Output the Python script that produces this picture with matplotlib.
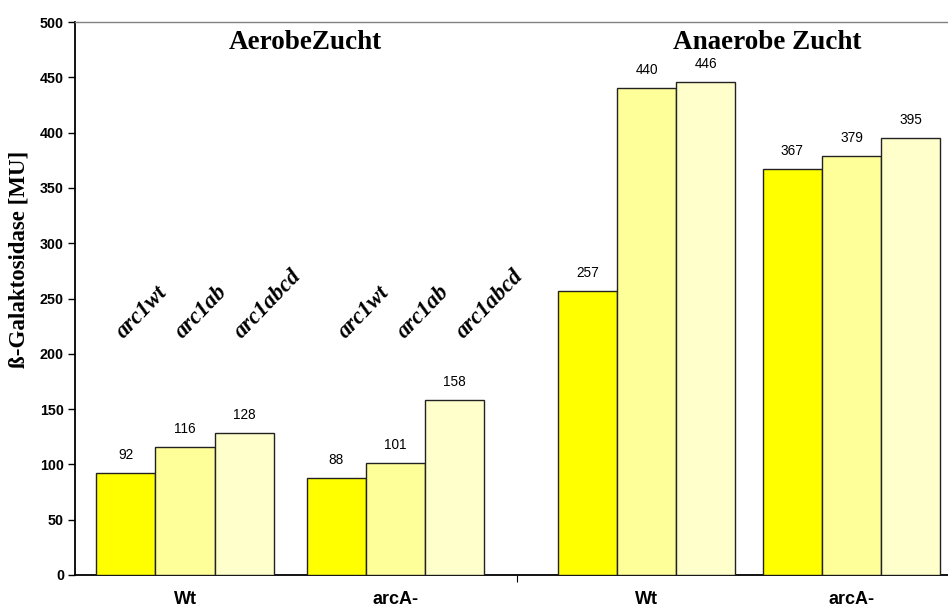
import matplotlib
matplotlib.use("Agg")
import matplotlib.pyplot as plt

# Data
groups = ["Wt", "arcA-", "Wt", "arcA-"]
strains = ["arc1wt", "arc1ab", "arc1abcd"]
aerobe_wt = [92, 116, 128]
aerobe_arca = [88, 101, 158]
anaerobe_wt = [257, 440, 446]
anaerobe_arca = [367, 379, 395]
conditions = ["AerobeZucht", "Anaerobe Zucht"]
y_label = "ß-Galaktosidase [MU]"
y_ticks = [0, 50, 100, 150, 200, 250, 300, 350, 400, 450, 500]

series = [aerobe_wt, aerobe_arca, anaerobe_wt, anaerobe_arca]
colors = ["#FFFF00", "#FFFF99", "#FFFFCC"]

SANS = "Liberation Sans"
SERIF = "Liberation Serif"

W, H = 948, 607
fig = plt.figure(figsize=(W / 100, H / 100), dpi=100)
ax_left, ax_right, ax_top, ax_bottom = 75, 948, 22, 575
ax = fig.add_axes([ax_left / W, 1 - ax_bottom / H,
                   (ax_right - ax_left) / W, (ax_bottom - ax_top) / H])

# Horizontal layout in pixel-like units along the axis
span = ax_right - ax_left
group_centers = [110, 320.5, 571.5, 776.5]
label_shift = [2, 13]
bar_w = 59.2
ax.set_xlim(0, span)
ax.set_ylim(0, 500)

for gc, vals in zip(group_centers, series):
    for i, v in enumerate(vals):
        xc = gc + (i - 1) * bar_w
        ax.bar(xc, v, width=bar_w, color=colors[i], edgecolor="#222222",
               linewidth=1.0, zorder=3)
        ax.annotate(str(v), (xc, v), xytext=(0, 18), textcoords="offset pixels",
                    ha="center", va="center", fontsize=9.8, family=SANS,
                    zorder=4)

# Rotated strain names above the aerobic groups
for gc, sh in zip(group_centers[:2], label_shift):
    for i, name in enumerate(strains):
        xc = gc + (i - 1) * bar_w
        ax.text(xc + sh - 4, 213, name, rotation=46, rotation_mode="anchor",
                ha="left", va="baseline", family=SERIF, fontweight="bold",
                fontstyle="italic", fontsize=16.5)

# Condition headings
ax.text(group_centers[0] + 120, 476, conditions[0], ha="center",
        va="baseline", family=SERIF, fontweight="bold", fontsize=19.5)
ax.text(692.5, 476, conditions[1], ha="center", va="baseline",
        family=SERIF, fontweight="bold", fontsize=19.5)

# Axes styling
ax.set_yticks(y_ticks)
ax.set_yticklabels([str(t) for t in y_ticks], family=SANS, fontweight="bold",
                   fontsize=10.3)
ax.tick_params(axis="y", direction="out", length=5, width=1, pad=3)
ax.set_xticks([442])
ax.set_xticklabels([""])
ax.tick_params(axis="x", direction="out", length=5, width=0.8)

for gc, g in zip(group_centers, groups):
    ax.text(gc, -22, g, ha="center", va="center", family=SANS,
            fontweight="bold", fontsize=13, clip_on=False)

ax.spines["left"].set_color("black")
ax.spines["left"].set_linewidth(1.3)
ax.spines["bottom"].set_color("black")
ax.spines["bottom"].set_linewidth(1.3)
ax.spines["top"].set_color("#808080")
ax.spines["top"].set_linewidth(1.0)
ax.spines["right"].set_visible(False)

fig.text(19 / W, 1 - 259 / H, y_label, rotation=90, ha="center", va="center",
         family=SERIF, fontweight="bold", fontsize=16.5)

fig.savefig("out.png", dpi=100)
